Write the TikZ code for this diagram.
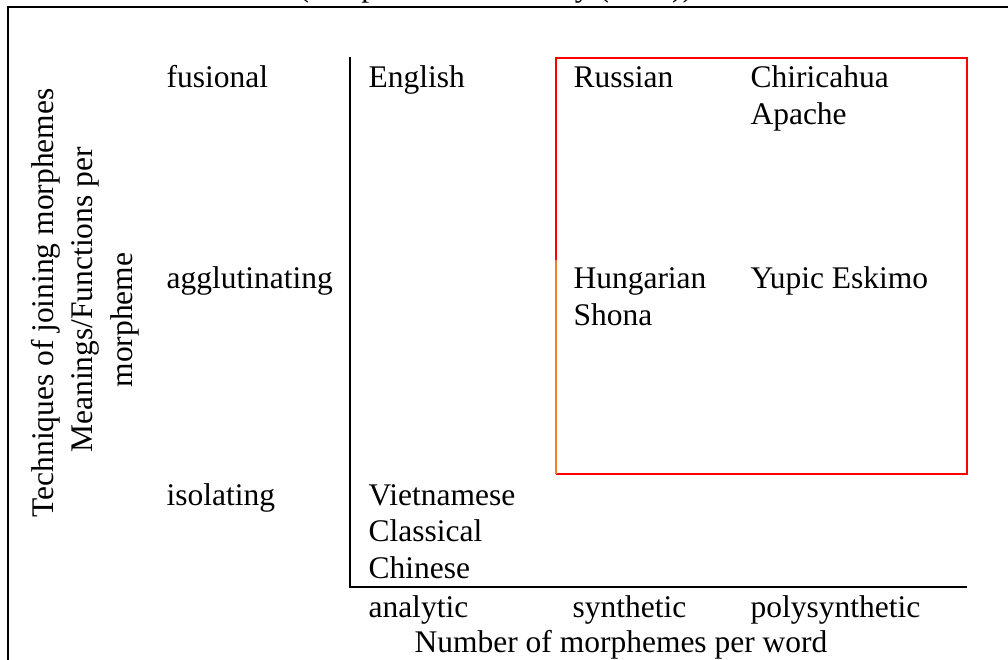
\documentclass[tikz,border=0pt]{standalone}
\usepackage{fontspec}
\setmainfont{Liberation Serif}
\usepackage{xcolor}
\usetikzlibrary{positioning}
\definecolor{boxred}{RGB}{255,0,0}
\definecolor{boxorange}{RGB}{237,125,49}
\tikzset{
  lbl/.style={anchor=base west, inner sep=0pt, align=left, font=\fontsize{12}{13.9}\selectfont},
  vlbl/.style={anchor=base, inner sep=0pt, rotate=90, font=\fontsize{12}{13.9}\selectfont},
  axisline/.style={line width=1pt},
  redline/.style={draw=boxred, line width=0.75pt},
  every picture/.style={line join=miter}
}

\begin{document}
\begin{tikzpicture}[x=0.381pt, y=-0.381pt]
  \useasboundingbox (0,0) rectangle (1008,659);
  % outer frame (cut by the page)
  \coordinate (ftr) at (1012,7);
  \coordinate (ftl) at (8,7);
  \coordinate (fbl) at (8,663);
  \draw[axisline] (ftr) -- (ftl) -- (fbl);
  \node[lbl] (title) at (298,-4) {(Adapted from Whaley (1997))};

  % axes
  \coordinate (ytop) at (350,57);
  \coordinate (orig) at (350,587);
  \coordinate (xend) at (967,587);
  \draw[axisline] (ytop) -- (orig) -- (xend);

  % box round the synthetic cells
  \coordinate (b1) at (556,58);
  \coordinate (b2) at (967,58);
  \coordinate (b3) at (967,474);
  \coordinate (b4) at (556,474);
  \coordinate (bm) at (556,260);
  \draw[redline] (bm) -- (b1) -- (b2) -- (b3) -- (b4);
  \draw[draw=boxorange, line width=0.75pt] (b4) -- (bm);

  % axis titles
  \node[vlbl] (ytitle) at (53,303) {Techniques of joining morphemes};
  \node[vlbl] (ysub1) at (92,300) {Meanings/Functions per};
  \node[vlbl] (ysub2) at (132,320) {morpheme};

  % rows
  \node[lbl] (fus) at (166,87) {fusional};
  \node[lbl] (agg) at (166,288) {agglutinating};
  \node[lbl] (iso) at (166,505) {isolating};

  % cells (multi-line nodes sit on their last line)
  \node[lbl] (eng) at (368,87) {English};
  \node[lbl] (rus) at (573,87) {Russian};
  \node[lbl] (chi) at (750,124) {Chiricahua\\Apache};
  \node[lbl] (hun) at (573,325) {Hungarian\\Shona};
  \node[lbl] (yup) at (750,288) {Yupic Eskimo};
  \node[lbl] (vie) at (368,578) {Vietnamese\\Classical\\Chinese};

  % columns
  \node[lbl] (ana) at (368,617) {analytic};
  \node[lbl] (syn) at (572,617) {synthetic};
  \node[lbl] (pol) at (750,617) {polysynthetic};
  \node[lbl, anchor=base] (xtitle) at (621,652) {Number of morphemes per word};
\end{tikzpicture}
\end{document}
